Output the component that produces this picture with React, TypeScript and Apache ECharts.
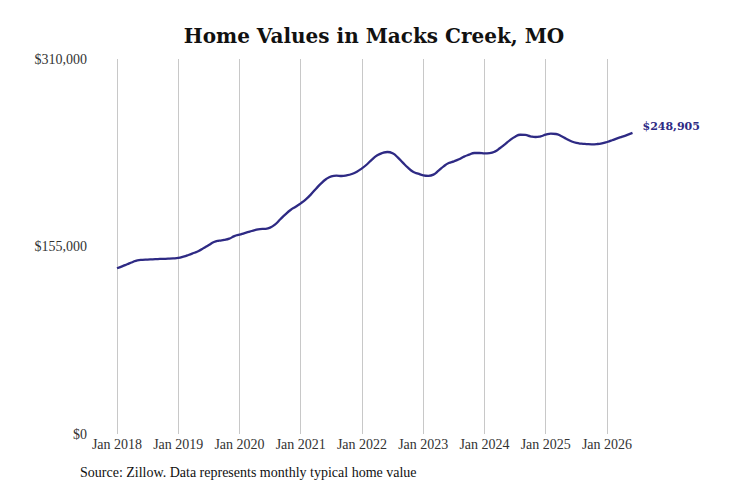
import { useEffect, useRef } from 'react'
import * as echarts from 'echarts'

// monthly typical home value, Jan 2018 .. Jun 2026
const startYear = 2018
const homeValues = [
  137000, 138600, 140300, 142000, 143600, 144000, 144200, 144400, 144600, 144800, 144900, 145100,
  145500, 146600, 148000, 149600, 151300, 153800, 156300, 158700, 159800, 160400, 161500, 163600,
  164800, 166100, 167300, 168500, 169400, 169600, 170600, 173300, 177500, 181600, 185200, 187900,
  190700, 194000, 198100, 202800, 207200, 210800, 213000, 213600, 213300, 213800, 214900, 216800,
  219600, 223000, 227100, 230400, 232300, 233100, 232000, 228700, 224300, 220200, 216800, 215200,
  213800, 213400, 214400, 217700, 221300, 224000, 225400, 227100, 229300, 230900, 232300, 232300,
  232000, 232200, 233400, 236200, 239500, 243000, 245800, 247400, 247200, 246100, 245500, 246100,
  247400, 248300, 248000, 246300, 244100, 242000, 240600, 240000, 239700, 239500, 239700, 240300,
  241400, 242800, 244400, 245800, 247300, 248905,
]
const monthNames = ['Jan', 'Feb', 'Mar', 'Apr', 'May', 'Jun', 'Jul', 'Aug', 'Sep', 'Oct', 'Nov', 'Dec']
const months = homeValues.map(
  (_, i) => `${monthNames[i % 12]} ${startYear + Math.floor(i / 12)}`
)
const yMax = 310000
const yStep = 155000

const title = 'Home Values in Macks Creek, MO'
const source = 'Source: Zillow. Data represents monthly typical home value'

const lineColor = '#2e2a84'
const serif = '"Liberation Serif", "DejaVu Serif", serif'

const money = (v: number) => '$' + v.toLocaleString('en-US')

export default function App() {
  const chartRef = useRef<HTMLDivElement>(null)

  useEffect(() => {
    if (!chartRef.current) return
    const chart = echarts.init(chartRef.current, null, { renderer: 'svg' })

    const isJan = (i: number) => i % 12 === 0

    chart.setOption({
      animation: false,
      grid: { left: 117, right: 98.5, top: 59, bottom: 53, containLabel: false },
      graphic: [
        {
          type: 'text',
          x: 374,
          y: 36,
          style: {
            text: title,
            fontFamily: '"DejaVu Serif", serif',
            fontWeight: 'bold',
            fontSize: 20,
            fill: '#111',
            textAlign: 'center',
            textVerticalAlign: 'middle',
          },
        },
        {
          type: 'text',
          x: 80,
          y: 472,
          style: {
            text: source,
            fontFamily: serif,
            fontSize: 14,
            fill: '#111',
            textAlign: 'left',
            textVerticalAlign: 'middle',
          },
        },
      ],
      xAxis: {
        type: 'category',
        data: months,
        boundaryGap: false,
        axisLine: { show: false },
        axisTick: { show: false },
        axisLabel: {
          interval: (i: number) => isJan(i),
          color: '#333',
          fontFamily: serif,
          fontSize: 14,
          margin: 3,
        },
        splitLine: {
          show: true,
          interval: (i: number) => isJan(i),
          lineStyle: { color: '#c8c8c8', width: 1 },
        },
      },
      yAxis: {
        type: 'value',
        min: 0,
        max: yMax,
        interval: yStep,
        axisLine: { show: false },
        axisTick: { show: false },
        splitLine: { show: false },
        axisLabel: {
          formatter: (v: number) => money(v),
          color: '#333',
          fontFamily: serif,
          fontSize: 14,
          margin: 30,
        },
      },
      series: [
        {
          type: 'line',
          data: homeValues,
          smooth: true,
          showSymbol: false,
          lineStyle: { color: lineColor, width: 2.3 },
          itemStyle: { color: lineColor },
          endLabel: {
            show: true,
            formatter: () => money(homeValues[homeValues.length - 1]),
            color: lineColor,
            fontFamily: '"DejaVu Serif", serif',
            fontWeight: 'bold',
            fontSize: 11,
            distance: 10,
            offset: [0, -6],
          },
        },
      ],
    })

    return () => chart.dispose()
  }, [])

  return (
    <div
      ref={chartRef}
      style={{ position: 'absolute', left: 0, top: 0, width: 731, height: 487, background: '#fff' }}
    />
  )
}
